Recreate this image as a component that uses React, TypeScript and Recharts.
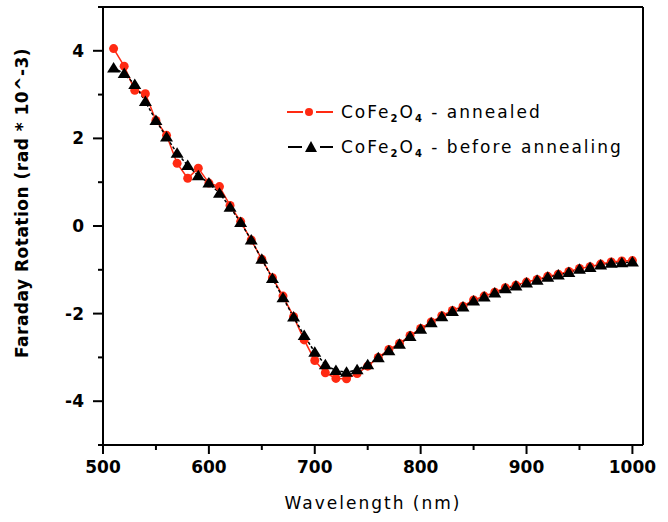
import React from "react";
import { LineChart, Line, XAxis, YAxis, ReferenceLine } from "recharts";

const wavelengths: number[] = [
  510, 520, 530, 540, 550, 560, 570, 580, 590, 600,
  610, 620, 630, 640, 650, 660, 670, 680, 690, 700,
  710, 720, 730, 740, 750, 760, 770, 780, 790, 800,
  810, 820, 830, 840, 850, 860, 870, 880, 890, 900,
  910, 920, 930, 940, 950, 960, 970, 980, 990, 1000,
];

const annealed: number[] = [
  4.05, 3.65, 3.1, 3.02, 2.41, 2.07, 1.43, 1.09, 1.32, 0.98,
  0.9, 0.47, 0.1, -0.32, -0.76, -1.18, -1.6, -2.07, -2.6, -3.07,
  -3.35, -3.48, -3.49, -3.37, -3.2, -3.0, -2.82, -2.68, -2.5, -2.34,
  -2.19, -2.05, -1.93, -1.83, -1.69, -1.6, -1.51, -1.41, -1.35, -1.28,
  -1.22, -1.15, -1.1, -1.04, -0.97, -0.93, -0.87, -0.82, -0.8, -0.79,
];

const beforeAnnealing: number[] = [
  3.61, 3.48, 3.23, 2.84, 2.41, 2.03, 1.66, 1.38, 1.15, 0.98,
  0.75, 0.43, 0.08, -0.32, -0.76, -1.2, -1.64, -2.08, -2.5, -2.88,
  -3.17, -3.3, -3.34, -3.28, -3.17, -3.01, -2.85, -2.7, -2.52, -2.36,
  -2.21, -2.07, -1.95, -1.85, -1.71, -1.62, -1.53, -1.43, -1.37, -1.3,
  -1.24, -1.17, -1.12, -1.06, -0.99, -0.95, -0.89, -0.85, -0.84, -0.82,
];

const xMajorTicks: number[] = [500, 600, 700, 800, 900, 1000];
const xMinorTicks: number[] = [550, 650, 750, 850, 950];
const yMajorTicks: number[] = [-4, -2, 0, 2, 4];
const yMinorTicks: number[] = [-5, -3, -1, 1, 3, 5];

const seriesNames = ["annealed", "before annealing"];

const data = wavelengths.map((wl, i) => ({
  wl,
  annealed: annealed[i],
  before: beforeAnnealing[i],
}));

const xAllTicks = [...xMajorTicks, ...xMinorTicks].sort((a, b) => a - b);
const yAllTicks = [...yMajorTicks, ...yMinorTicks].sort((a, b) => a - b);

const RED = "#ff2a12";
const FONT = "'DejaVu Sans', Verdana, sans-serif";

const XTick = (props: any) => {
  const { x, y, payload } = props;
  const major = xMajorTicks.includes(payload.value);
  const len = major ? 9 : 5;
  return (
    <g>
      <line x1={x} y1={y} x2={x} y2={y + len} stroke="#000" strokeWidth={2} />
      {major && (
        <text
          x={x}
          y={y + 28}
          textAnchor="middle"
          fontFamily={FONT}
          fontWeight={700}
          fontSize={17}
          fill="#000"
        >
          {payload.value}
        </text>
      )}
    </g>
  );
};

const YTick = (props: any) => {
  const { x, y, payload } = props;
  const major = yMajorTicks.includes(payload.value);
  const len = major ? 10 : 5;
  return (
    <g>
      <line x1={x - len} y1={y} x2={x} y2={y} stroke="#000" strokeWidth={2} />
      {major && (
        <text
          x={x - 19}
          y={y + 6}
          textAnchor="end"
          fontFamily={FONT}
          fontWeight={700}
          fontSize={17}
          fill="#000"
        >
          {payload.value}
        </text>
      )}
    </g>
  );
};

const RedDot = (props: any) => {
  const { cx, cy, index } = props;
  if (cx == null || cy == null) return <g key={index} />;
  return <circle key={index} cx={cx} cy={cy} r={4.5} fill={RED} stroke="none" />;
};

const Tri = (props: any) => {
  const { cx, cy, index } = props;
  if (cx == null || cy == null) return <g key={index} />;
  const pts = `${cx},${cy - 6} ${cx - 6.5},${cy + 4.5} ${cx + 6.5},${cy + 4.5}`;
  return <polygon key={index} points={pts} fill="#000" stroke="none" />;
};

const Formula = ({ x, y, name }: { x: number; y: number; name: string }) => (
  <text x={x} y={y} fontFamily={FONT} fontSize={17} letterSpacing={2} fill="#000">
    CoFe
    <tspan fontSize={10} fontWeight={700} dy={4}>2</tspan>
    <tspan dy={-4}>O</tspan>
    <tspan fontSize={10} fontWeight={700} dy={4}>4</tspan>
    <tspan dy={-4}>{` - ${name}`}</tspan>
  </text>
);

export default function App() {
  return (
    <div style={{ position: "absolute", left: 0, top: 0, width: 668, height: 522, background: "#fff" }}>
      <LineChart
        width={668}
        height={522}
        data={data}
        margin={{ top: 7, right: 25, bottom: 0, left: 0 }}
      >
        <XAxis
          dataKey="wl"
          type="number"
          domain={[500, 1010]}
          ticks={xAllTicks}
          interval={0}
          allowDataOverflow
          height={77}
          tickSize={0}
          tickMargin={0}
          tick={<XTick />}
          tickLine={false}
          axisLine={{ stroke: "#000", strokeWidth: 2 }}
        />
        <YAxis
          type="number"
          domain={[-5, 5]}
          ticks={yAllTicks}
          interval={0}
          allowDataOverflow
          width={103}
          tickSize={0}
          tickMargin={0}
          tick={<YTick />}
          tickLine={false}
          axisLine={{ stroke: "#000", strokeWidth: 2 }}
        />
        <ReferenceLine y={5} stroke="#000" strokeWidth={2} />
        <ReferenceLine x={1010} stroke="#000" strokeWidth={2} />
        <Line
          dataKey="annealed"
          name={seriesNames[0]}
          stroke={RED}
          strokeWidth={1.5}
          dot={RedDot}
          activeDot={false}
          isAnimationActive={false}
        />
        <Line
          dataKey="before"
          name={seriesNames[1]}
          stroke="#000"
          strokeWidth={1.5}
          strokeDasharray="3 2"
          dot={Tri}
          activeDot={false}
          isAnimationActive={false}
        />
      </LineChart>
      <svg
        width={668}
        height={522}
        style={{ position: "absolute", left: 0, top: 0, pointerEvents: "none" }}
      >
        <line x1={287} y1={112} x2={303} y2={112} stroke={RED} strokeWidth={2} />
        <line x1={316} y1={112} x2={333} y2={112} stroke={RED} strokeWidth={2} />
        <circle cx={309} cy={112} r={4} fill={RED} />
        <Formula x={341} y={118} name={seriesNames[0]} />
        <line x1={288} y1={147} x2={302} y2={147} stroke="#000" strokeWidth={2} />
        <line x1={320} y1={147} x2={333} y2={147} stroke="#000" strokeWidth={2} />
        <polygon points="311,141 305,152 317,152" fill="#000" />
        <Formula x={341} y={153} name={seriesNames[1]} />
        <text
          x={373}
          y={509}
          textAnchor="middle"
          fontFamily={FONT}
          fontSize={17}
          letterSpacing={2}
          fill="#000"
        >
          Wavelength (nm)
        </text>
        <text
          x={22}
          y={203}
          textAnchor="middle"
          dominantBaseline="central"
          transform="rotate(-90, 22, 203)"
          fontFamily={FONT}
          fontSize={17}
          fontWeight={700}
          letterSpacing={0.5}
          fill="#000"
        >
          Faraday Rotation (rad * 10^-3)
        </text>
      </svg>
    </div>
  );
}
